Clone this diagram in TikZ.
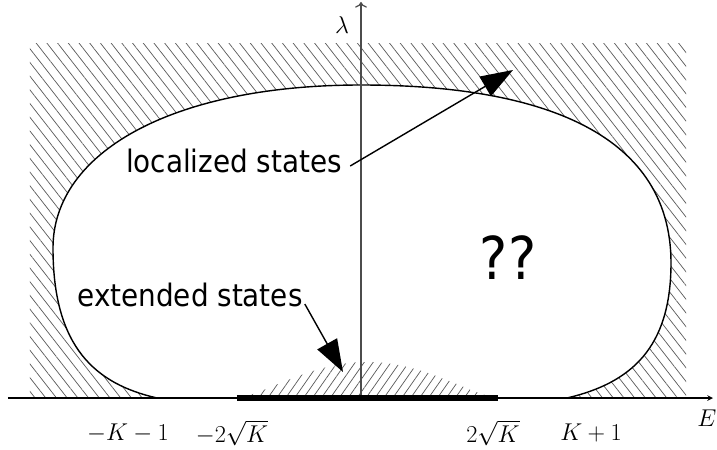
\documentclass[tikz,border=0pt]{standalone}
\usepackage{amsmath,amssymb}
\usepackage{fontspec}
\newfontfamily\labelfont{DejaVu Sans Condensed}
\usepackage{tikz}
\usetikzlibrary{patterns.meta, positioning, arrows.meta, calc}

\tikzset{
  hatchout/.style={pattern={Lines[angle=-52, distance=6pt, line width=0.5pt]}, pattern color=black!65},
  hatchin/.style={pattern={Lines[angle=55, distance=5.2pt, line width=0.5pt]}, pattern color=black!65},
  statelabel/.style={font=\labelfont\fontsize{22}{26}\selectfont, inner sep=0pt},
  ticklabel/.style={font=\fontsize{16}{19}\selectfont, inner sep=0pt},
  bigarrow/.style={line width=1pt, -{Triangle[length=23pt, width=16pt]}}
}

% boundary between localized and extended region
\newcommand{\blobcurve}{(-204,0) .. controls (-265,14) and (-308,50) .. (-308,150)
  .. controls (-308,245) and (-190,313) .. (0,313)
  .. controls (170,313) and (310,270) .. (310,135)
  .. controls (310,50) and (270,15) .. (206,0)}

\begin{document}
\begin{tikzpicture}[x=0.025cm, y=0.025cm, >=stealth]
        \useasboundingbox (-361,-51) rectangle (356,398);

        % Hatched outer region
        \fill[hatchout] (-331,0) rectangle (325,355);

        % White blob bounded by the curve
        \fill[white] \blobcurve -- cycle;

        % Hatched bump of extended states
        \fill[hatchin] plot[domain=-124:137, samples=50, smooth]
          (\x, {36*(1-((\x-6.5)/130.5)^2)^1.5}) -- cycle;

        % Outline of the curve
        \draw[line width=1pt] \blobcurve;

        % Axes
        \coordinate (O) at (0,0);
        \coordinate (Eleft) at (-353,0);
        \coordinate (Eright) at (352,0);
        \coordinate (Ltop) at (0,396);
        \draw[line width=0.8pt, ->] (Eleft) -- (Eright);
        \draw[line width=0.9pt, black!70, -{To[length=4pt]}] (O) -- (Ltop);
        \node[ticklabel] (E) at (346,-20) {$E$};
        \node[ticklabel] (lam) at (-19,373) {$\lambda$};

        % Spectrum band
        \coordinate (bandl) at (-124,0);
        \coordinate (bandr) at (137,0);
        \draw[line width=4pt] (bandl) -- (bandr);

        % Tick labels
        \node[ticklabel] (mK1) at (-233,-35) {$-K-1$};
        \node[ticklabel] (m2K) at (-129,-35) {$-2\sqrt{K}$};
        \node[ticklabel] (p2K) at (132,-35) {$2\sqrt{K}$};
        \node[ticklabel] (pK1) at (230,-35) {$K+1$};

        % State labels and arrows
        \node[statelabel] (loc) at (-127,237) {localized states};
        \node[statelabel] (ext) at (-171,103) {extended states};
        \node[font=\labelfont\fontsize{42}{46}\selectfont, inner sep=0pt] (qq) at (147,140) {??};
        \coordinate (loctip) at (152,328);
        \coordinate (exttip) at (-18,26);
        \draw[bigarrow] ($(loc.east)+(8,-5)$) -- (loctip);
        \draw[bigarrow] ($(ext.east)+(2,-9)$) -- (exttip);
    \end{tikzpicture}
\end{document}
